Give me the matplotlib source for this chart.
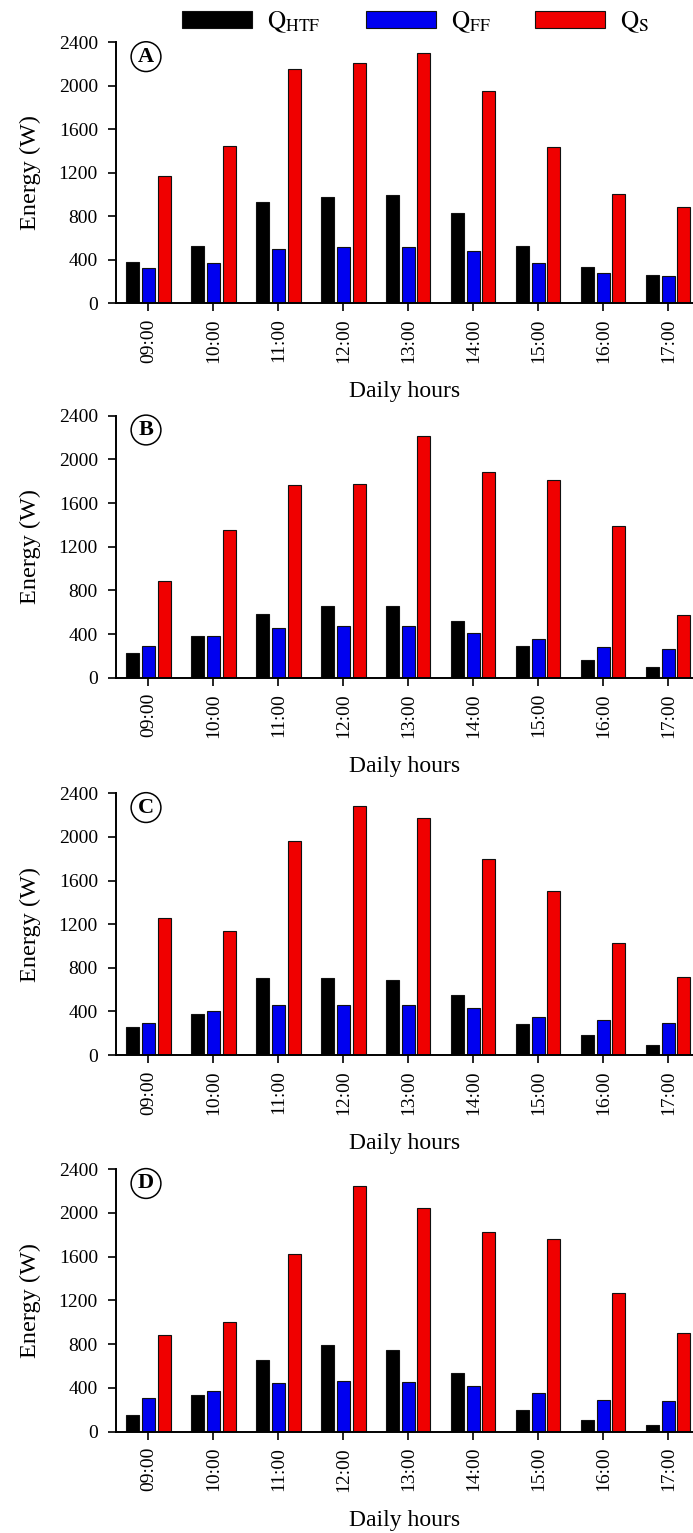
"""Hourly energy balance (Q_HTF, Q_FF, Q_S) for four test days, A-D."""
import matplotlib
matplotlib.use("Agg")
import matplotlib.pyplot as plt
from matplotlib.patches import Patch
import numpy as np

HOURS = ["09:00", "10:00", "11:00", "12:00", "13:00",
         "14:00", "15:00", "16:00", "17:00"]
PANELS = ["A", "B", "C", "D"]

# energy in W, one list per series and day
Q_HTF_A = [383, 530, 935, 981, 999, 828, 530, 334, 257]
Q_FF_A = [322, 374, 500, 515, 521, 478, 368, 279, 248]
Q_S_A = [1174, 1447, 2158, 2207, 2299, 1952, 1434, 1005, 886]

Q_HTF_B = [226, 382, 583, 653, 660, 522, 290, 165, 101]
Q_FF_B = [290, 382, 452, 473, 473, 406, 351, 278, 266]
Q_S_B = [885, 1350, 1768, 1777, 2217, 1887, 1810, 1392, 574]

Q_HTF_C = [254, 379, 703, 709, 691, 547, 287, 186, 92]
Q_FF_C = [290, 407, 455, 462, 455, 434, 345, 318, 290]
Q_S_C = [1257, 1140, 1963, 2281, 2177, 1794, 1501, 1030, 718]

Q_HTF_D = [156, 339, 656, 796, 750, 540, 198, 104, 58]
Q_FF_D = [305, 375, 445, 461, 458, 421, 351, 290, 281]
Q_S_D = [888, 1003, 1626, 2251, 2047, 1824, 1766, 1272, 900]

SERIES_LABELS = [r"$\mathrm{Q_{HTF}}$", r"$\mathrm{Q_{FF}}$", r"$\mathrm{Q_{S}}$"]
COLORS = ["#000000", "#0000F0", "#F00000"]

# axes boxes in figure fractions (left, bottom, width, height)
AX_BOXES = [
    (0.1674, 0.8022, 0.8326, 0.1701),
    (0.1674, 0.5579, 0.8326, 0.1709),
    (0.1674, 0.3118, 0.8326, 0.1707),
    (0.1674, 0.0661, 0.8326, 0.1712),
]


def _panel(ax, letter, series):
    x = np.arange(len(HOURS))
    width = 0.2
    offsets = [-0.24, 0.0, 0.24]
    for vals, off, col in zip(series, offsets, COLORS):
        ax.bar(x + off, vals, width, color=col, edgecolor="#111111", linewidth=0.8)

    ax.set_xlim(-0.5, 8.38)
    ax.set_ylim(0, 2400)
    ax.set_yticks(range(0, 2401, 400))
    ax.set_xticks(x)
    ax.set_xticklabels(HOURS, rotation=90)
    ax.tick_params(axis="both", direction="out", length=6, width=1.2, labelsize=14)
    ax.tick_params(axis="y", pad=7)
    ax.tick_params(axis="x", pad=5)
    for side in ("top", "right"):
        ax.spines[side].set_visible(False)
    for side in ("left", "bottom"):
        ax.spines[side].set_linewidth(1.4)

    ax.set_xlabel("Daily hours", fontsize=17, labelpad=13)
    ax.set_ylabel("Energy (W)", fontsize=17.5, labelpad=13)

    ax.text(0.052, 0.9456, letter, transform=ax.transAxes, ha="center",
            va="center", fontsize=16, fontweight="bold",
            bbox=dict(boxstyle="circle,pad=0.22", fc="white", ec="black", lw=1.1))


def main():
    plt.rcParams["font.family"] = ["Liberation Serif", "DejaVu Serif"]
    plt.rcParams["mathtext.fontset"] = "stix"

    fig = plt.figure(figsize=(6.93, 15.33), dpi=100)
    data = [
        (Q_HTF_A, Q_FF_A, Q_S_A),
        (Q_HTF_B, Q_FF_B, Q_S_B),
        (Q_HTF_C, Q_FF_C, Q_S_C),
        (Q_HTF_D, Q_FF_D, Q_S_D),
    ]
    for box, letter, series in zip(AX_BOXES, PANELS, data):
        ax = fig.add_axes(box)
        _panel(ax, letter, series)

    handles = [Patch(facecolor=c, edgecolor="#111111", linewidth=0.8) for c in COLORS]
    fig.legend(handles, SERIES_LABELS, loc="center", bbox_to_anchor=(0.6, 0.9855),
               ncol=3, frameon=False, fontsize=18, handlelength=2.8,
               handleheight=0.7, handletextpad=0.6, columnspacing=1.8)

    fig.savefig("out.png", dpi=100)


if __name__ == "__main__":
    main()
